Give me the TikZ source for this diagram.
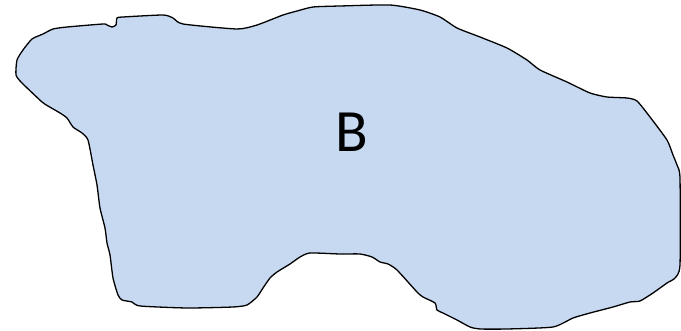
\documentclass[tikz,border=0pt]{standalone}
\usepackage{fontspec}
\setmainfont{Carlito}
\definecolor{blobfill}{HTML}{C6D9F1}
\begin{document}
\begin{tikzpicture}[x=1pt,y=-1pt,
  blob/.style={draw=black,line width=1.3pt,fill=blobfill,line join=round},
  lbl/.style={font=\fontsize{60}{60}\selectfont,inner sep=0pt}]
\useasboundingbox (0,0) rectangle (681,331);
\draw[blob] plot[smooth cycle,tension=0.35] coordinates {
(32,39) (43,34) (53,29) (67,27) (103,24) (107,25) (112,27) (116,25) (117,18) (123,17)
(163,15) (173,18) (183,24) (237,29) (257,25) (283,15) (297,11) (313,7) (340,6)
(390,5) (420,10) (440,17) (457,28) (480,37) (507,48) (527,60) (540,70) (567,82)
(590,93) (607,97) (627,98) (637,101) (650,117) (667,140) (673,155)
(677,165) (680,178) (680,265) (675,278) (667,283) (653,293) (640,301) (630,302)
(613,307) (590,313) (573,318) (553,327) (507,329) (480,329) (470,327) (457,320)
(443,313) (437,310) (435,303) (423,297) (417,292) (397,270) (388,264) (380,262)
(372,257) (360,254) (340,254) (310,253) (300,257) (290,264) (277,272) (270,278)
(263,288) (257,297) (247,305) (233,307) (187,308) (140,306) (132,302) (122,300)
(118,295) (113,278) (110,255) (107,243) (105,228) (100,208) (97,185) (93,165)
(88,140) (82,133) (73,127) (67,118) (60,113) (48,106) (42,102) (22,83) (16,75)
(17,60) (23,50)};
\node[lbl] (B) at (352,132) {B};
\end{tikzpicture}
\end{document}
